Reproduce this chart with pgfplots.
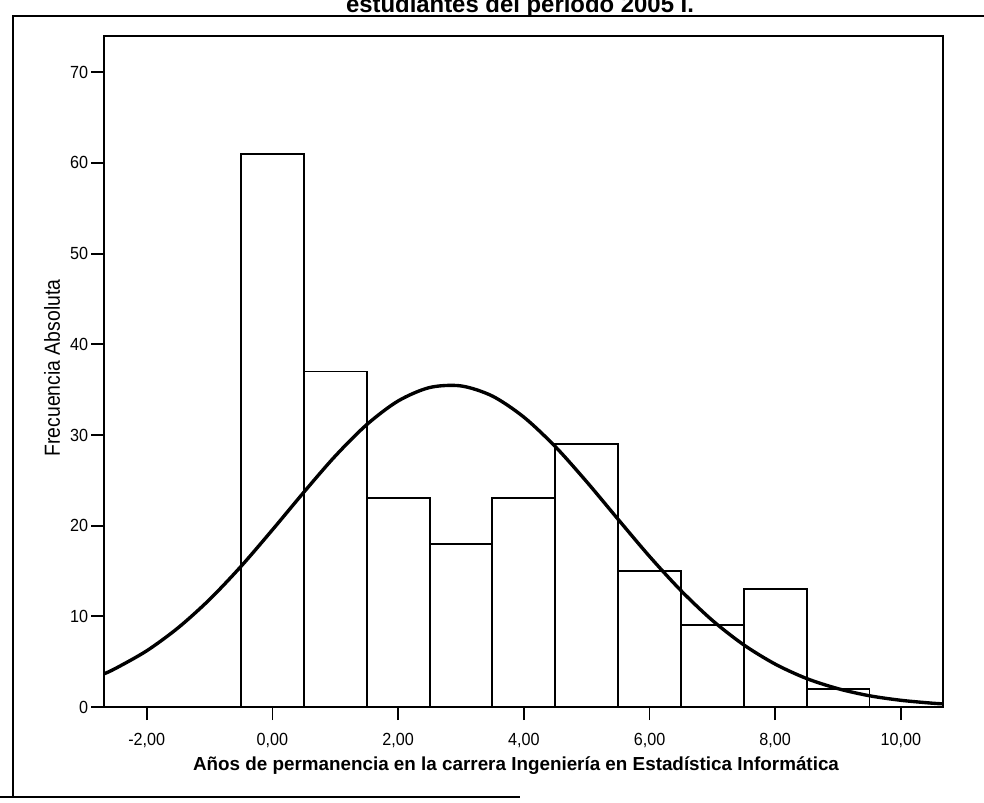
\documentclass[border=0pt]{standalone}
\usepackage{pgfplots}
\pgfplotsset{compat=1.18}
\usepackage{fontspec}
\setmainfont{Liberation Sans}
\newfontfamily\ticksfont[FakeStretch=0.92]{Liberation Sans}
\newfontfamily\ylabfont[FakeStretch=0.89]{Liberation Sans}

\begin{document}
\begin{tikzpicture}
% page = 984 x 803 px, 1px = 0.25mm, y measured downwards from the top
\begin{axis}[
    at={(0,0)}, anchor=south west,
    scale only axis,
    width=209.75mm, height=167.75mm,
    xmin=-2.68, xmax=10.67,
    ymin=0, ymax=74,
    axis line style={line width=1.3pt},
    tick align=outside,
    xtick pos=bottom, ytick pos=left,
    major tick length=3.25mm,
    tick style={line width=1.3pt, black},
    xtick={-2,0,...,10},
    xticklabels={{-2,00},{0,00},{2,00},{4,00},{6,00},{8,00},{10,00}},
    ytick={0,10,...,70},
    yticklabels={0,10,20,30,40,50,60,70},
    tick label style={font=\ticksfont\fontsize{12.5}{14}\selectfont},
    xticklabel style={anchor=center, yshift=-5.2mm},
    yticklabel style={anchor=east, xshift=0.5mm},
]
% histogram, bin width 1
\addplot[ybar interval, fill=white, draw=black, line width=1.4pt] coordinates {
    (-0.5,61) (0.5,37) (1.5,23) (2.5,18) (3.5,23) (4.5,29)
    (5.5,15) (6.5,9) (7.5,13) (8.5,2) (9.5,2)
};
% normal curve
\addplot[smooth, black, line width=2.4pt] coordinates {
    (-2.68,3.66) (-2.5,4.24) (-2,6.20) (-1.5,8.74) (-1,11.86) (-0.5,15.51)
    (0,19.54) (0.5,23.69) (1,27.68) (1.5,31.14) (2,33.75) (2.5,35.23)
    (3,35.41) (3.5,34.29) (4,31.97) (4.5,28.72) (5,24.84) (5.5,20.70)
    (6,16.61) (6.5,12.84) (7,9.55) (7.5,6.85) (8,4.73) (8.5,3.14)
    (9,2.02) (9.5,1.24) (10,0.74) (10.5,0.42) (10.67,0.35)
};
\end{axis}

\begin{scope}[x=0.25mm, y=-0.25mm, xshift=-26mm, yshift=176.75mm]
  % outer frame of the scanned page
  \draw[line width=1.1pt] (984,16) -- (13,16) -- (13,797);
  \draw[line width=1.1pt] (0,797) -- (520,797);
  % title, cut off at the top of the page
  \begin{scope}
    \clip (0,0) rectangle (984,803);
    \node[anchor=base, inner sep=0pt, font=\bfseries\fontsize{17}{20}\selectfont]
      at (520,12.7) {estudiantes del periodo 2005 I.};
  \end{scope}
  % axis labels
  \node[rotate=90, inner sep=0pt, font=\ylabfont\fontsize{15.5}{18}\selectfont]
    at (52,368) {Frecuencia Absoluta};
  \node[inner sep=0pt, font=\bfseries\fontsize{13.4}{16}\selectfont]
    at (516,766) {Años de permanencia en la carrera Ingeniería en Estadística Informática};
  \pgfresetboundingbox
  \useasboundingbox (0,0) rectangle (984,803);
\end{scope}
\end{tikzpicture}
\end{document}
